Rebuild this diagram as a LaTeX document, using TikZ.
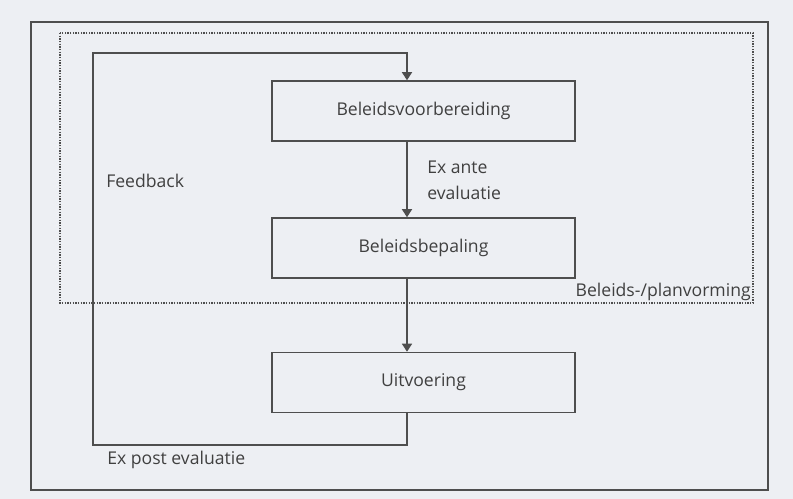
\documentclass[tikz,border=0pt]{standalone}
\usepackage{fontspec}
\setmainfont{Open Sans}
\usepackage{xcolor}
\usepackage{tikz}
\usetikzlibrary{arrows.meta}

\definecolor{papier}{HTML}{EDEFF3}
\definecolor{inkt}{HTML}{4E4E4E}
\definecolor{letter}{HTML}{404040}
\tikzset{
  kader/.style={draw=inkt,line width=1.15pt},
  stippel/.style={draw=inkt,line width=1pt,dash pattern=on 1.1pt off 0.9pt},
  stap/.style={draw=inkt,line width=1.15pt,fill=papier,minimum width=227pt,minimum height=45pt,inner sep=0pt},
  pijl/.style={draw=inkt,line width=1.15pt,-{Triangle[width=7.5pt,length=6pt]}},
  tekst/.style={text=letter,inner sep=0pt,font=\fontsize{13.2}{19.5}\selectfont}
}

\begin{document}
\begin{tikzpicture}[x=0.75pt,y=-0.75pt]
\fill[papier] (0,0) rectangle (793,499);
\useasboundingbox (0,0) rectangle (793,499);

\draw[kader] (31,22) rectangle (768,490);
\draw[stippel] (60,33) rectangle (753,303);

\node[stap,text=letter,font=\fontsize{13.2}{15}\selectfont] (voorb) at (423.5,111) {Beleidsvoorbereiding};
\node[stap,text=letter,font=\fontsize{13.2}{15}\selectfont] (bepal) at (423.5,248) {Beleidsbepaling};
\node[stap,text=letter,font=\fontsize{13.2}{15}\selectfont] (uitv) at (423.5,382.5) {Uitvoering};

\coordinate (lijn) at (407,0);
\coordinate (lo) at (93,445);
\coordinate (lb) at (93,53);

\draw[pijl] (voorb.south -| lijn) -- (bepal.north -| lijn);
\draw[pijl] (bepal.south -| lijn) -- (uitv.north -| lijn);
\draw[pijl] (uitv.south -| lijn) |- (lo) -- (lb) -| (voorb.north -| lijn);

\node[tekst,anchor=west] (feedback) at (106,181) {Feedback};
\node[tekst,anchor=west,align=left] (exante) at (427,180) {Ex ante\\evaluatie};
\node[tekst,anchor=east] (planv) at (751,292) {Beleids-/planvorming};
\node[tekst,anchor=west] (expost) at (107,460) {Ex post evaluatie};

\end{tikzpicture}
\end{document}
